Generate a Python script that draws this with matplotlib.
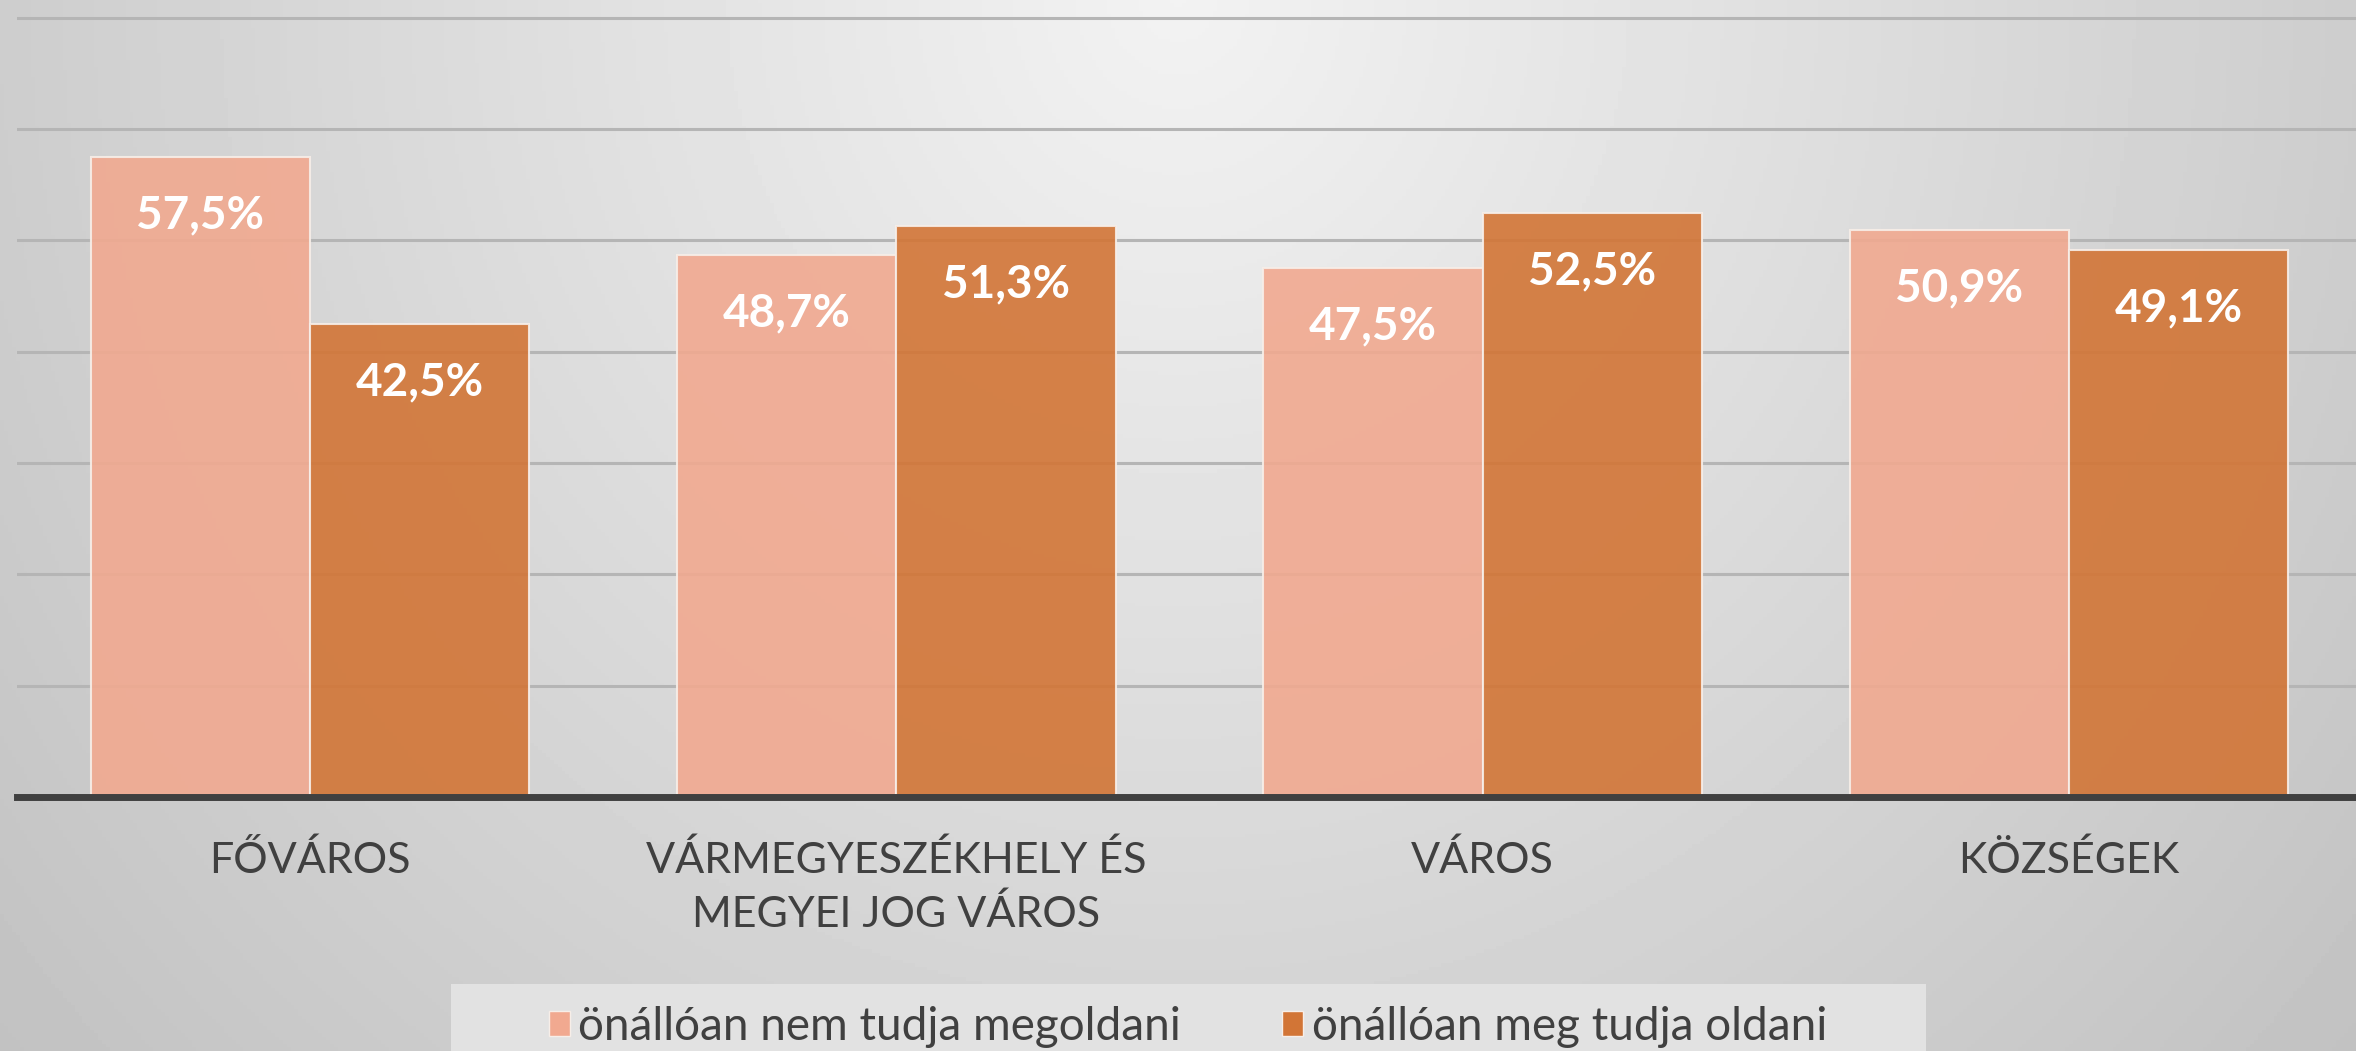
import numpy as np
import matplotlib.pyplot as plt
from matplotlib.patches import Patch, Rectangle

categories = ["FŐVÁROS", "VÁRMEGYESZÉKHELY ÉS\nMEGYEI JOG VÁROS", "VÁROS", "KÖZSÉGEK"]
cannot_solve = [57.5, 48.7, 47.5, 50.9]
can_solve = [42.5, 51.3, 52.5, 49.1]
series_names = ["önállóan nem tudja megoldani", "önállóan meg tudja oldani"]

plt.rcParams['font.family'] = ['Lato', 'DejaVu Sans']

W, H = 2356, 1051
fig = plt.figure(figsize=(W / 100, H / 100), dpi=100)

# radial grey background, lightest at top centre
bg = fig.add_axes([0, 0, 1, 1], zorder=-10)
yy, xx = np.mgrid[0:1:300j, 0:1:600j]
r = np.sqrt(((xx - 0.5) * 2) ** 2 + (yy * 0.85) ** 2)
shade = np.clip(0.95 - 0.145 * r, 0, 1)
bg.imshow(shade, cmap='gray', vmin=0, vmax=1, aspect='auto', extent=[0, 1, 0, 1], origin='upper')
bg.axis('off')

ax = fig.add_axes([17 / W, (H - 797) / H, 2345 / W, 797 / H])
ax.set_facecolor('none')

x = np.arange(len(categories))
w = 0.374
c1, c2 = '#F1A990', '#D27536'
b1 = ax.bar(x - w / 2, cannot_solve, w, color=c1, alpha=0.9, edgecolor='#F7EEE8', linewidth=1.5)
b2 = ax.bar(x + w / 2, can_solve, w, color=c2, alpha=0.9, edgecolor='#F7EEE8', linewidth=1.5)

for bars, vals in [(b1, cannot_solve), (b2, can_solve)]:
    for rect, v in zip(bars, vals):
        ax.annotate(f"{v:.1f}".replace('.', ',') + '%', (rect.get_x() + rect.get_width() / 2, v),
                    xytext=(0, -42), textcoords='offset points', ha='center', va='center',
                    color='white', fontweight='bold', fontsize=33)

ax.set_xlim(-0.5, 3.5)
ax.set_ylim(0, 71.6)
ax.set_yticks(range(10, 80, 10))
ax.tick_params(axis='y', length=0, labelleft=False)
ax.grid(axis='y', color='#B5B5B5', linewidth=2.2)
ax.set_axisbelow(True)
ax.set_xticks(x, categories)
ax.tick_params(axis='x', length=0, pad=31, labelsize=31, labelcolor='#404040')
for lab in ax.get_xticklabels():
    lab.set_linespacing(1.45)
for s in ['top', 'right', 'left']:
    ax.spines[s].set_visible(False)
ax.spines['bottom'].set_color('#404040')
ax.spines['bottom'].set_linewidth(5)

# legend box
fig.patches.append(Rectangle((451 / W, (H - 1070) / H), 1475 / W, 86 / H, transform=fig.transFigure,
                             facecolor='#E2E2E2', edgecolor='none', zorder=-5))
handles = [Patch(facecolor=c1, edgecolor='#F7EEE8'), Patch(facecolor=c2, edgecolor='#F7EEE8')]
fig.legend(handles, series_names, loc='center', bbox_to_anchor=(1188 / W, (H - 1027) / H), ncol=2,
           frameon=False, fontsize=33, handlelength=0.46, handleheight=0.46, handletextpad=0.18,
           columnspacing=2.2, labelcolor='#404040')

fig.savefig('out.png', dpi=100)
